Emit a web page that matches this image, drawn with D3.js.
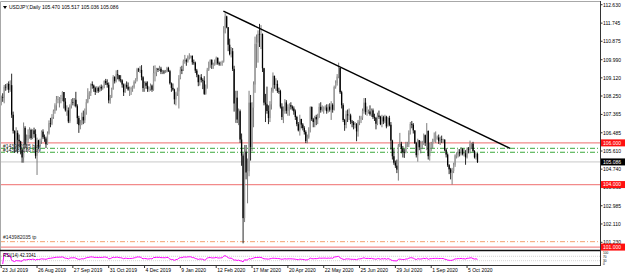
<!DOCTYPE html>
<html><head><meta charset="utf-8">
<script src="https://cdn.jsdelivr.net/npm/d3@7"></script>
<style>body{margin:0;background:#fff}svg{display:block}text{font-family:"Liberation Sans",Arial,sans-serif}</style>
</head><body><svg id="c" width="625" height="276"></svg>
<script>
// ---- data ----
const firstOpen = 107.90;
const closes = [
108.20,108.18,108.69,108.67,108.83,108.55,108.77,107.35,106.58,105.95,
106.48,106.15,106.07,105.68,105.30,106.72,105.92,106.13,106.38,106.62,
106.23,106.60,106.42,105.38,106.12,105.82,106.07,106.54,106.27,106.21,
105.93,106.46,106.94,106.92,107.24,107.54,107.80,108.09,108.09,108.12,
108.15,108.44,107.98,107.56,107.56,107.03,107.78,107.95,107.93,108.07,
107.76,107.19,106.85,106.94,107.25,107.08,107.48,107.95,108.29,108.40,
108.82,108.75,108.63,108.44,108.64,108.48,108.69,108.61,108.69,108.97,
108.87,108.79,108.04,108.19,108.58,109.16,108.96,109.29,109.25,109.05,
109.00,108.80,108.43,108.78,108.69,108.56,108.60,108.62,108.67,108.93,
109.05,109.53,109.48,109.50,109.15,108.63,108.88,108.74,108.58,108.59,
108.75,108.55,109.35,109.37,109.56,109.50,109.56,109.41,109.42,109.38,
109.40,109.59,109.44,108.86,108.64,108.56,108.09,108.38,108.47,109.09,
109.52,109.46,109.93,109.97,109.90,110.13,110.15,110.17,109.87,109.85,
109.47,109.27,108.91,109.15,109.02,108.98,108.35,108.67,109.51,109.85,
109.99,109.75,109.75,109.80,110.08,109.82,109.77,109.85,109.90,111.28,
112.07,111.55,110.71,110.26,110.40,109.55,107.89,108.17,107.12,107.52,
106.16,105.39,102.39,105.58,104.58,104.64,107.93,105.80,107.69,108.80,
110.75,110.81,111.23,111.21,111.22,109.58,107.93,107.85,107.53,107.19,
107.85,108.47,109.22,108.78,108.83,108.49,108.48,107.74,107.24,107.52,
107.94,107.54,107.72,107.81,107.74,107.65,107.51,107.24,106.90,106.60,
107.15,106.88,106.71,106.52,106.09,106.26,106.65,107.72,107.13,107.00,
107.24,107.13,107.33,107.73,107.57,107.61,107.64,107.70,107.52,107.74,
107.59,107.83,107.59,108.68,108.87,109.18,109.60,108.43,107.81,107.10,
106.86,107.37,107.32,107.32,107.02,106.97,106.86,106.90,106.55,107.02,
107.17,107.21,107.53,107.93,107.48,107.50,107.51,107.37,107.56,107.24,
107.20,106.92,107.31,107.25,106.90,107.23,107.03,107.26,106.79,107.20,
106.87,106.11,105.36,105.05,104.91,104.72,105.88,105.96,105.72,105.56,
105.55,105.93,105.93,106.48,106.91,106.87,106.60,105.99,105.41,106.13,
105.79,105.80,105.98,106.37,106.00,106.57,105.36,105.91,105.96,106.16,
106.19,106.24,106.26,106.08,106.17,106.14,106.16,105.67,105.44,104.93,
104.73,104.57,104.65,104.95,105.40,105.40,105.57,105.50,105.70,105.47,
105.50,105.31,105.72,105.68,105.95,105.96,105.61,105.31,105.47,105.086];
const highs = [
108.27,108.38,108.78,108.82,108.87,108.95,109.00,109.32,107.50,106.60,
106.75,106.60,106.40,106.10,105.70,106.98,106.80,106.40,106.65,106.75,
106.68,106.65,106.73,106.65,106.25,106.15,106.20,106.60,106.65,106.40,
106.30,106.55,107.08,107.20,107.38,107.60,107.90,108.25,108.25,108.20,
108.30,108.48,108.30,108.15,107.80,107.70,107.85,108.10,108.15,108.15,
108.45,107.85,107.30,107.10,107.45,107.55,107.65,108.10,108.62,108.48,
108.85,108.95,108.80,108.70,108.72,108.70,108.75,108.80,108.75,109.00,
109.07,109.05,108.90,108.30,108.65,109.25,109.20,109.48,109.50,109.25,
109.25,109.05,108.85,108.85,108.95,108.90,108.70,108.70,108.75,109.00,
109.10,109.60,109.60,109.68,109.73,109.20,108.95,108.95,108.95,108.70,
108.85,108.80,109.70,109.72,109.60,109.60,109.70,109.65,109.50,109.50,
109.50,109.65,109.65,109.50,108.90,108.85,108.60,108.45,108.65,109.25,
109.65,109.70,110.00,110.22,110.05,110.20,110.30,110.20,110.20,110.00,
109.90,109.55,109.20,109.25,109.30,109.10,109.20,108.80,109.60,109.90,
110.00,110.00,109.85,110.00,110.14,110.10,109.90,109.90,109.95,111.60,
112.22,112.10,111.40,111.00,110.60,110.55,109.70,108.50,108.50,107.65,
107.60,106.45,105.50,105.90,105.90,105.25,108.50,108.30,107.95,108.95,
111.10,111.20,111.40,111.71,111.65,111.25,109.60,108.35,108.70,107.80,
108.00,108.65,109.38,109.20,109.10,109.00,108.65,108.55,107.90,107.75,
108.10,108.05,107.85,107.90,107.95,107.80,107.75,107.60,107.30,107.00,
107.35,107.10,106.95,106.80,106.60,106.40,106.75,107.75,107.75,107.20,
107.30,107.35,107.40,107.90,107.95,107.80,107.75,107.80,107.85,107.85,
107.90,108.00,107.90,108.75,109.00,109.30,109.85,109.60,108.50,107.90,
107.15,107.55,107.60,107.65,107.40,107.10,107.05,107.00,106.95,107.10,
107.30,107.30,107.65,108.15,108.15,107.75,107.60,107.80,107.65,107.65,
107.40,107.25,107.45,107.55,107.30,107.35,107.30,107.35,107.30,107.25,
107.30,107.00,106.15,105.70,105.15,105.20,105.95,106.48,106.05,105.85,
105.70,106.05,106.05,106.60,107.00,107.05,106.95,106.60,106.05,106.20,
106.05,106.10,106.10,106.45,106.40,106.95,106.60,106.00,106.05,106.20,
106.50,106.55,106.35,106.40,106.30,106.35,106.20,106.15,105.75,105.50,
104.98,104.80,104.80,105.05,105.45,105.55,105.70,105.70,105.80,105.75,
105.70,105.65,105.78,105.80,106.11,106.00,106.05,105.65,105.55,105.517];
const lows = [
107.80,107.97,107.90,108.50,108.55,108.40,108.45,107.20,106.45,105.52,
105.55,105.50,105.80,105.45,105.05,105.05,105.75,105.60,106.00,106.20,
106.15,106.18,106.25,105.25,104.46,105.70,105.58,105.95,106.18,106.05,
105.75,105.90,106.40,106.75,106.85,107.15,107.40,107.55,107.90,107.70,
107.90,108.00,107.65,107.50,107.30,106.95,106.95,107.65,107.80,107.75,
107.70,106.90,106.48,106.65,106.85,106.90,106.95,107.35,107.90,108.10,
108.25,108.60,108.45,108.30,108.40,108.40,108.45,108.50,108.55,108.62,
108.78,108.65,107.90,107.88,108.15,108.55,108.85,108.90,109.05,108.95,
108.90,108.65,108.25,108.40,108.60,108.50,108.25,108.30,108.45,108.60,
108.85,108.95,109.40,109.35,109.00,108.45,108.45,108.60,108.45,108.45,
108.50,108.45,108.50,108.95,109.20,109.40,109.45,109.30,109.30,109.30,
109.35,109.38,109.40,108.80,108.45,108.50,107.85,107.80,108.25,107.65,
109.05,109.30,109.45,109.80,109.70,109.85,110.00,110.05,109.75,109.75,
109.35,109.15,108.72,108.75,108.90,108.58,108.30,108.31,108.60,109.45,
109.60,109.55,109.55,109.70,109.75,109.75,109.70,109.70,109.70,109.85,
111.25,111.50,110.40,110.20,110.10,109.45,107.50,106.96,106.95,106.85,
106.00,104.90,101.18,102.20,104.25,103.10,104.40,105.15,105.60,106.75,
108.40,109.60,109.85,110.60,110.50,109.40,107.80,107.00,107.40,106.90,
107.00,107.60,108.40,108.60,108.50,108.40,108.35,107.65,107.10,106.95,
107.40,107.40,107.30,107.30,107.60,107.55,107.35,107.10,106.80,106.55,
106.35,106.70,106.60,106.40,105.99,105.98,106.20,106.50,107.05,106.75,
106.75,106.85,106.90,107.20,107.45,107.50,107.40,107.55,107.40,107.45,
107.50,107.10,107.45,107.55,108.60,108.75,109.10,108.35,107.65,107.00,
106.58,106.70,107.00,107.10,106.90,106.75,106.65,106.70,106.08,106.30,
106.85,106.95,107.10,107.40,107.35,107.30,107.40,107.30,107.25,107.15,
107.05,106.65,106.85,107.15,106.85,106.75,106.90,106.95,106.70,106.80,
106.80,105.68,105.20,104.95,104.80,104.55,104.19,105.80,105.50,105.30,
105.28,105.50,105.80,105.80,106.40,106.70,106.45,105.95,105.30,105.10,
105.65,105.50,105.70,105.90,105.85,105.65,105.20,105.15,105.60,105.75,
106.05,106.00,106.15,105.95,105.90,106.00,106.00,105.60,105.30,104.85,
104.50,104.25,104.00,104.55,104.85,105.25,105.30,105.35,105.40,105.40,
105.35,104.95,105.25,105.50,105.50,105.70,105.55,105.25,105.20,105.036];

const startDate = "2019-07-23", endDate = "2020-10-14";
const holidays = ["2019-12-25", "2020-01-01"];
const priceTickLabels = ["112.630","111.745","110.875","109.990","109.120","108.250","107.365","106.485","105.610","104.740","103.865","102.985","102.110","101.230"];
const dateTickDates = ["2019-07-23","2019-08-26","2019-09-27","2019-10-31","2019-12-04","2020-01-09","2020-02-12","2020-03-17","2020-04-20","2020-05-22","2020-06-25","2020-07-29","2020-09-01","2020-10-05"];
const dateTickLabels = ["23 Jul 2019","26 Aug 2019","27 Sep 2019","31 Oct 2019","4 Dec 2019","9 Jan 2020","12 Feb 2020","17 Mar 2020","20 Apr 2020","22 May 2020","25 Jun 2020","29 Jul 2020","1 Sep 2020","5 Oct 2020"];
const redLevels = [106.000, 104.000, 101.000];
const redLevelLabels = ["106.000", "104.000", "101.000"];
const orderLevels = [105.74, 105.55];
const orderLabels = ["#143982035 buy", "#143982036 buy"];
const tpLevel = 101.26;
const tpLabel = "#143982035 tp";
const bidPrice = 105.086;
const bidLabel = "105.086";
const trendBars = [148.8, 340.8];
const trendPrices = [112.327, 105.74];
const rsiPeriod = 14;
const rsiLevels = [70, 30];
const rsiTickValues = [100, 70, 30, 0];
const titleText = "USDJPY,Daily  105.470 105.517 105.036 105.086";
const rsiTitle = "RSI(14) 42.3341";

// ---- build ----
const fmt = d3.timeFormat("%Y-%m-%d");
const dates = d3.timeDay.range(new Date(startDate + "T00:00"), d3.timeDay.offset(new Date(endDate + "T00:00"), 1))
  .filter(d => d.getDay() !== 0 && d.getDay() !== 6 && !holidays.includes(fmt(d))).map(fmt);

const bars = closes.map((c, i) => {
  const o = i === 0 ? firstOpen : closes[i - 1];
  return {i, o, c, h: Math.max(highs[i], o, c), l: Math.min(lows[i], o, c)};
});

const svg = d3.select("#c");
const axisX = 600.5;
const x = d3.scaleLinear().domain([0, bars.length - 1]).range([1.2, 477.5]);
const y = d3.scaleLinear().domain([101.23, 112.63]).range([242.3, 4.7]);
const yr = d3.scaleLinear().domain([0, 100]).range([264, 253]);

svg.append("clipPath").attr("id", "clipMain").append("rect").attr("x", 1).attr("y", 2).attr("width", axisX - 1).attr("height", 247);

// frame
svg.append("line").attr("x1", 0.5).attr("x2", axisX).attr("y1", 1.5).attr("y2", 1.5).attr("stroke", "#a8a8a8");
svg.append("line").attr("x1", 0.5).attr("x2", 0.5).attr("y1", 1.5).attr("y2", 265.5).attr("stroke", "#a8a8a8");

const g = svg.append("g").attr("clip-path", "url(#clipMain)");

// horizontal levels
g.selectAll(".red").data(redLevels).join("line")
  .attr("x1", 0).attr("x2", axisX).attr("y1", d => y(d)).attr("y2", d => y(d))
  .attr("stroke", "#f28a8a").attr("stroke-width", 1.2);
g.append("line").attr("x1", 0).attr("x2", axisX).attr("y1", y(bidPrice)).attr("y2", y(bidPrice))
  .attr("stroke", "#c8c8c8").attr("stroke-width", 1);
g.selectAll(".ord").data(orderLevels).join("line")
  .attr("x1", 0).attr("x2", axisX).attr("y1", d => y(d)).attr("y2", d => y(d))
  .attr("stroke", "#3aa83a").attr("stroke-width", 1).attr("stroke-dasharray", "5,2,1,2");
g.append("line").attr("x1", 0).attr("x2", axisX).attr("y1", y(tpLevel)).attr("y2", y(tpLevel))
  .attr("stroke", "#f5a070").attr("stroke-width", 1).attr("stroke-dasharray", "5,2,1,2");

// candles
const cg = g.append("g");
cg.selectAll(".wick").data(bars).join("line")
  .attr("x1", d => x(d.i)).attr("x2", d => x(d.i))
  .attr("y1", d => y(d.h)).attr("y2", d => y(d.l))
  .attr("stroke", d => d.c >= d.o ? "#6e6e6e" : "#111").attr("stroke-width", 0.9);
cg.selectAll(".body").data(bars).join("rect")
  .attr("x", d => x(d.i) - 0.65).attr("width", 1.3)
  .attr("y", d => y(Math.max(d.o, d.c))).attr("height", d => Math.max(0.6, Math.abs(y(d.o) - y(d.c))))
  .attr("fill", d => d.c >= d.o ? "#9a9a9a" : "#000");

// trendline
g.append("line").attr("x1", x(trendBars[0])).attr("y1", y(trendPrices[0]))
  .attr("x2", x(trendBars[1])).attr("y2", y(trendPrices[1]))
  .attr("stroke", "#000").attr("stroke-width", 1.4);

// texts on lines
svg.selectAll(".ordt").data(orderLabels).join("text")
  .attr("x", 3).attr("y", (d, i) => y(orderLevels[i]) - 0.5).attr("font-size", 5).attr("fill", "#222").text(d => d);
svg.append("text").attr("x", 3).attr("y", y(tpLevel) - 3).attr("font-size", 5).attr("fill", "#222").text(tpLabel);

// title
svg.append("path").attr("d", "M3,6 L7,6 L5,9 Z").attr("fill", "#000");
svg.append("text").attr("x", 9).attr("y", 9).attr("font-size", 5).attr("fill", "#000").text(titleText);

// separator
svg.append("line").attr("x1", 0).attr("x2", axisX).attr("y1", 250.5).attr("y2", 250.5).attr("stroke", "#111").attr("stroke-width", 1.5);

// RSI (Wilder)
const rsi = [];
let ag = 0, al = 0;
for (let i = 1; i < closes.length; i++) {
  const ch = closes[i] - closes[i - 1];
  const gn = Math.max(ch, 0), ls = Math.max(-ch, 0);
  if (i <= rsiPeriod) { ag = (ag * (i - 1) + gn) / i; al = (al * (i - 1) + ls) / i; }
  else { ag = (ag * (rsiPeriod - 1) + gn) / rsiPeriod; al = (al * (rsiPeriod - 1) + ls) / rsiPeriod; }
  rsi.push({i, v: al === 0 ? 100 : 100 - 100 / (1 + ag / al)});
}
svg.selectAll(".rl").data(rsiLevels).join("line")
  .attr("x1", 1).attr("x2", axisX).attr("y1", d => yr(d)).attr("y2", d => yr(d))
  .attr("stroke", "#c8c8c8").attr("stroke-width", 0.8).attr("stroke-dasharray", "1,1");
svg.append("path").datum(rsi).attr("fill", "none").attr("stroke", "#ff00ff").attr("stroke-width", 1)
  .attr("d", d3.line().x(d => x(d.i)).y(d => yr(d.v)));
svg.append("text").attr("x", 3).attr("y", 256.5).attr("font-size", 4.5).attr("fill", "#000").text(rsiTitle);

// bottom / right axes lines
svg.append("line").attr("x1", 0).attr("x2", axisX).attr("y1", 265.5).attr("y2", 265.5).attr("stroke", "#333");
svg.append("line").attr("x1", axisX).attr("x2", axisX).attr("y1", 1).attr("y2", 266).attr("stroke", "#333");

// price axis
const pt = svg.append("g");
priceTickLabels.forEach(s => {
  const v = +s;
  pt.append("line").attr("x1", axisX).attr("x2", axisX + 2).attr("y1", y(v)).attr("y2", y(v)).attr("stroke", "#333");
  pt.append("text").attr("x", 603).attr("y", y(v) + 1.8).attr("font-size", 5).attr("fill", "#000").text(s);
});
// level labels
redLevels.forEach((v, i) => {
  pt.append("rect").attr("x", 601).attr("y", y(v) - 3.5).attr("width", 24).attr("height", 7).attr("fill", "#ff1010");
  pt.append("text").attr("x", 603).attr("y", y(v) + 1.8).attr("font-size", 5).attr("fill", "#fff").text(redLevelLabels[i]);
});
pt.append("rect").attr("x", 601).attr("y", y(bidPrice) - 3.5).attr("width", 24).attr("height", 7).attr("fill", "#000");
pt.append("text").attr("x", 603).attr("y", y(bidPrice) + 1.8).attr("font-size", 5).attr("fill", "#fff").text(bidLabel);
// rsi axis
rsiTickValues.forEach(v => {
  pt.append("text").attr("x", 603).attr("y", yr(v) + 1.2).attr("font-size", 3.2).attr("fill", "#000").text(v);
});

// date axis
dateTickDates.forEach((d, k) => {
  const xi = x(dates.indexOf(d));
  svg.append("line").attr("x1", xi).attr("x2", xi).attr("y1", 265.5).attr("y2", 268).attr("stroke", "#333");
  svg.append("text").attr("x", xi + 1).attr("y", 272).attr("font-size", 5).attr("fill", "#000").text(dateTickLabels[k]);
});
</script></body></html>
